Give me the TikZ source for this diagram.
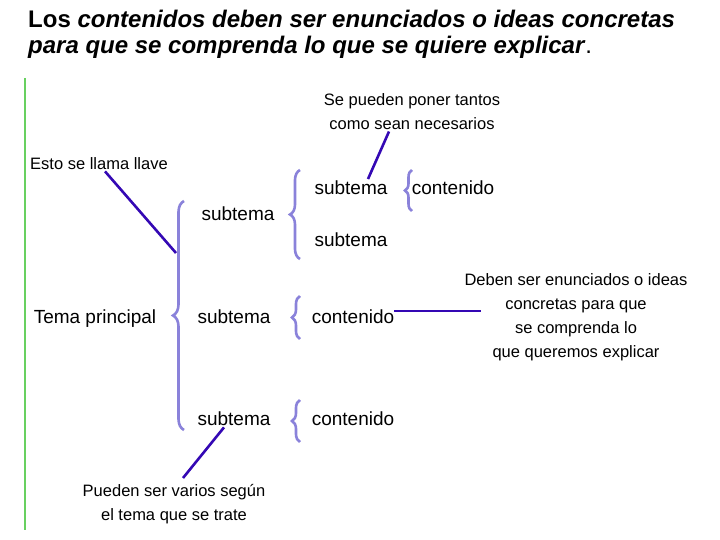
\documentclass[tikz,border=0pt]{standalone}
\usepackage{fontspec}
\setmainfont{Liberation Sans}
\usetikzlibrary{decorations.pathreplacing}
\definecolor{llave}{RGB}{138,130,218}
\definecolor{flecha}{RGB}{52,8,180}
\definecolor{verde}{RGB}{104,208,96}

\begin{document}
\begin{tikzpicture}[x=1pt,y=1pt,inner sep=0pt]
    \tikzstyle{titulo}=[font=\fontsize{24}{26}\selectfont\bfseries, anchor=base west]
    \tikzstyle{texto}=[font=\fontsize{19}{24}\selectfont, anchor=base]
    \tikzstyle{nota}=[font=\fontsize{16.5}{24}\selectfont, align=center, anchor=north]
    \tikzstyle{brace}=[draw=llave, line width=2.6pt, decorate]
    \tikzstyle{linea}=[draw=flecha, line width=2.6pt]
    \useasboundingbox (0,0) rectangle (720,-540);

    % Title
    \node[titulo] (t1) at (28,-28)
        {Los \textit{contenidos deben ser enunciados o ideas concretas}};
    \node[titulo] (t2) at (28,-54)
        {\textit{para que se comprenda lo que se quiere explicar}\mdseries.};

    % Left margin
    \draw[verde, line width=1.8pt] (25,-78) -- (25,-530);

    % Main scheme
    \node[texto] (tema) at (95,-323) {Tema principal};
    \node[texto] (sub-1) at (238,-221) {subtema};
    \node[texto] (sub-2) at (234,-323) {subtema};
    \node[texto] (sub-3) at (234,-425) {subtema};
    \node[texto] (sub-11) at (351,-195) {subtema};
    \node[texto] (sub-12) at (351,-247) {subtema};
    \node[texto] (cont-11) at (453,-195) {contenido};
    \node[texto] (cont-2) at (353,-323) {contenido};
    \node[texto] (cont-3) at (353,-425) {contenido};

    % Braces
    \path[brace, decoration={brace, amplitude=11pt}] (184,-430) -- (184,-201);
    \path[brace, decoration={brace, amplitude=10pt}] (300,-259) -- (300,-170);
    \path[brace, decoration={brace, amplitude=7pt}] (412,-211) -- (412,-170);
    \foreach \top/\bot in {296/339, 400/442}
        \path[brace, decoration={brace, amplitude=8pt}] (300,-\bot) -- (300,-\top);

    % Notes
    \node[nota, anchor=base] (llave) at (99,-170) {Esto se llama llave};
    \node[nota] (tantos) at (412,-93) {Se pueden poner tantos\\como sean necesarios};
    \node[nota] (deben) at (576,-273) {Deben ser enunciados o ideas\\concretas para que\\se comprenda lo\\que queremos explicar};
    \node[nota] (varios) at (174,-484) {Pueden ser varios según\\el tema que se trate};

    \coordinate (c-llave) at (176,-253);
    \coordinate (c-deben) at (481,-311);
    \draw[linea] ([xshift=6pt,yshift=-1pt]llave.south) -- (c-llave);
    \draw[linea] ([xshift=-23pt,yshift=-2pt]tantos.south) -- ([xshift=17pt,yshift=2pt]sub-11.north);
    \draw[linea] (cont-2.east |- c-deben) -- (c-deben);
    \draw[linea] ([xshift=-10pt,yshift=-2pt]sub-3.south) -- ([xshift=9pt,yshift=6pt]varios.north);
\end{tikzpicture}
\end{document}
